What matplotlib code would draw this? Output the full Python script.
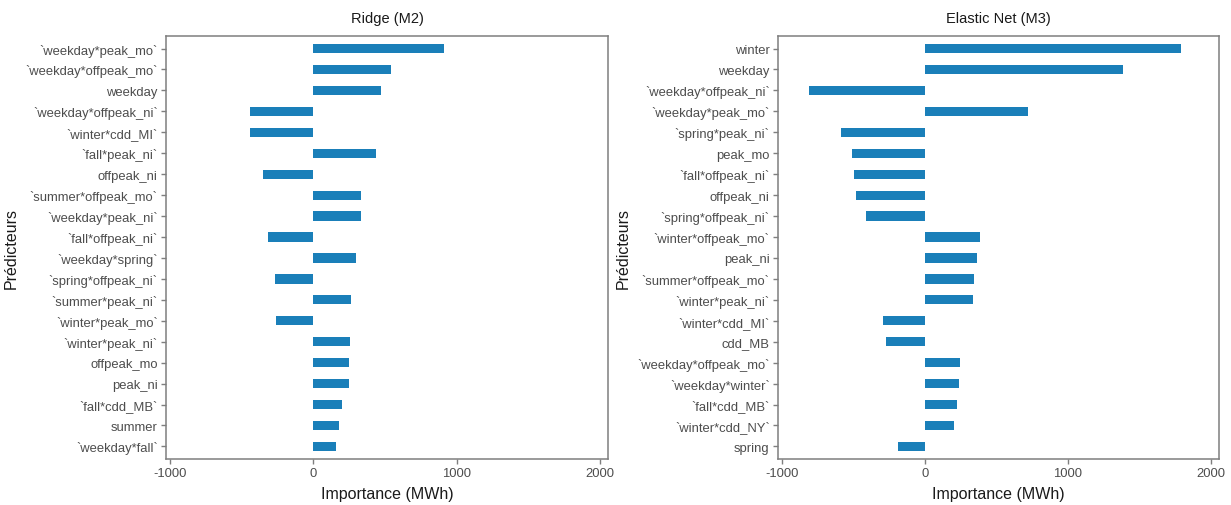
import matplotlib
matplotlib.use("Agg")
import matplotlib.pyplot as plt

# Coefficient importances (MWh), listed top to bottom as displayed
ridge_labels = [
    "`weekday*peak_mo`", "`weekday*offpeak_mo`", "weekday", "`weekday*offpeak_ni`",
    "`winter*cdd_MI`", "`fall*peak_ni`", "offpeak_ni", "`summer*offpeak_mo`",
    "`weekday*peak_ni`", "`fall*offpeak_ni`", "`weekday*spring`", "`spring*offpeak_ni`",
    "`summer*peak_ni`", "`winter*peak_mo`", "`winter*peak_ni`", "offpeak_mo",
    "peak_ni", "`fall*cdd_MB`", "summer", "`weekday*fall`",
]
ridge_values = [
    909, 546, 476, -440, -440, 435, -349, 335, 335, -316,
    302, -266, 266, -260, 260, 252, 247, 202, 183, 161,
]

enet_labels = [
    "winter", "weekday", "`weekday*offpeak_ni`", "`weekday*peak_mo`",
    "`spring*peak_ni`", "peak_mo", "`fall*offpeak_ni`", "offpeak_ni",
    "`spring*offpeak_ni`", "`winter*offpeak_mo`", "peak_ni", "`summer*offpeak_mo`",
    "`winter*peak_ni`", "`winter*cdd_MI`", "cdd_MB", "`weekday*offpeak_mo`",
    "`weekday*winter`", "`fall*cdd_MB`", "`winter*cdd_NY`", "spring",
]
enet_values = [
    1792, 1389, -808, 722, -583, -506, -497, -478, -408, 386,
    364, 344, 336, -289, -267, 244, 239, 225, 203, -189,
]

x_ticks = [-1000, 0, 1000, 2000]
titles = ["Ridge (M2)", "Elastic Net (M3)"]

plt.rcParams["font.family"] = ["Liberation Sans", "DejaVu Sans"]

BAR = "#1a7fb9"
FRAME = "#7f7f7f"
TXT = "#4d4d4d"

fig = plt.figure(figsize=(12.31, 5.06), dpi=100)
ax_left = fig.add_axes([0.1349, 0.0909, 0.359, 0.836])
ax_right = fig.add_axes([0.632, 0.0909, 0.358, 0.836])

panels = [
    (ax_left, ridge_labels, ridge_values, titles[0]),
    (ax_right, enet_labels, enet_values, titles[1]),
]
for ax, labels, values, title in panels:
    n = len(labels)
    pos = list(range(n, 0, -1))
    ax.barh(pos, values, height=0.44, color=BAR)
    ax.set_ylim(0.4, n + 0.6)
    ax.set_xlim(-1025, 2055)
    ax.set_yticks(pos)
    ax.set_yticklabels(labels)
    ax.set_xticks(x_ticks)
    ax.set_xticklabels([str(t) for t in x_ticks])
    ax.tick_params(axis="both", colors=FRAME, labelcolor=TXT, labelsize=9.4,
                   length=3.5, width=1.0, pad=2.5)
    for s in ax.spines.values():
        s.set_color(FRAME)
        s.set_linewidth(1.1)
    ax.set_title(title, fontsize=10.5, color="#1a1a1a", pad=10)
    ax.set_xlabel("Importance (MWh)", fontsize=11.5, color="#1a1a1a", labelpad=5)
    ax.set_ylabel("Prédicteurs", fontsize=11.5, color="#1a1a1a", labelpad=5)

fig.savefig("out.png", dpi=100)
